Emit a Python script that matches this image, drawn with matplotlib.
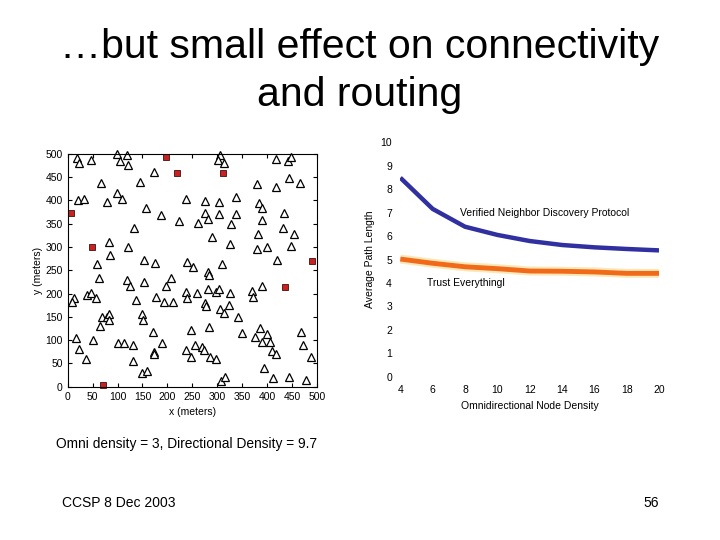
import numpy as np
import matplotlib.pyplot as plt

plt.rcParams['font.family'] = ['Liberation Sans', 'DejaVu Sans']

# ordinary nodes (triangles)
nodos_x = [18, 22, 47, 98, 105, 119, 122, 306, 302, 313, 419, 442, 449, 174, 67, 146,
           379, 419, 444, 466, 20, 33, 79, 99, 110, 238, 276, 303, 337, 158, 187, 223,
           261, 275, 282, 304, 338, 327, 383, 390, 390, 435, 133, 290, 82, 121, 85, 326,
           382, 433, 454, 379, 400, 449, 59, 154, 176, 240, 251, 310, 420, 282,
           283, 63, 120, 125, 208, 197, 153, 390, 13, 9, 39, 47, 57, 138, 178, 194, 211,
           238, 240, 260, 282, 276, 278, 298, 303, 326, 323, 306, 313, 342, 369, 372,
           69, 65, 79, 82, 82, 149, 151, 172, 190, 248, 284, 350, 387, 375, 401, 391,
           407, 410, 419, 469, 473, 489, 17, 22, 37, 51, 101, 113, 131, 131, 173, 174,
           237, 247, 256, 269, 274, 285, 298, 395, 412, 444, 478, 150, 160, 308, 315]
nodos_y = [492, 481, 486, 499, 484, 497, 477, 498, 486, 481, 489, 484, 494, 462, 437, 440,
           435, 428, 449, 438, 400, 404, 397, 417, 404, 403, 398, 397, 408, 383, 368, 356,
           352, 374, 361, 370, 370, 349, 394, 383, 358, 372, 340, 322, 311, 299, 282, 306,
           328, 341, 327, 296, 299, 302, 264, 271, 266, 267, 256, 264, 272, 246,
           239, 234, 229, 216, 234, 216, 224, 216, 190, 181, 196, 201, 191, 187, 193, 181, 181,
           203, 191, 201, 210, 180, 174, 204, 209, 201, 176, 167, 159, 149, 206, 193,
           150, 130, 150, 155, 143, 155, 143, 117, 94, 121, 129, 116, 125, 107, 113, 96,
           96, 76, 71, 118, 89, 64, 105, 81, 60, 100, 94, 93, 90, 56, 74, 71,
           79, 64, 90, 86, 79, 63, 59, 41, 19, 20, 14, 29, 33, 13, 21]

# malicious nodes (red squares)
malos_x = [198, 220, 312, 6, 48, 491, 71, 437]
malos_y = [494, 460, 460, 372, 299, 269, 4, 213]

# average path length vs density
densidad = [4, 6, 8, 10, 12, 14, 16, 18, 20]
verificado = [8.49, 7.16, 6.40, 6.05, 5.79, 5.62, 5.52, 5.45, 5.39]
confiar = [5.02, 4.84, 4.69, 4.61, 4.51, 4.50, 4.47, 4.41, 4.41]

fig = plt.figure(figsize=(7.2, 5.4), dpi=100)

fig.text(0.5, 0.913, '\u2026but small effect on connectivity', ha='center', va='center', fontsize=29.5)
fig.text(0.5, 0.824, 'and routing', ha='center', va='center', fontsize=29.5)

# scatter of nodes
ax1 = fig.add_axes([0.094, 0.284, 0.346, 0.431])
ax1.plot(nodos_x, nodos_y, '^', markersize=6, markerfacecolor='white',
         markeredgecolor='black', markeredgewidth=0.9, clip_on=False)
ax1.plot(malos_x, malos_y, 's', markersize=5, markerfacecolor='#cc2020',
         markeredgecolor='#401010', markeredgewidth=0.6, clip_on=False)
ax1.set_xlim(0, 500)
ax1.set_ylim(0, 500)
ax1.set_xticks(np.arange(0, 501, 50))
ax1.set_yticks(np.arange(0, 501, 50))
ax1.tick_params(direction='in', top=True, right=True, labelsize=7.5, length=3)
ax1.set_xlabel('x (meters)', fontsize=7.5, labelpad=4)
ax1.set_ylabel('y (meters)', fontsize=7.5, labelpad=2)

# path length chart
ax2 = fig.add_axes([0.556, 0.3024, 0.3593, 0.434])
ax2.plot(densidad, verificado, color='#3030a0', lw=3.2, solid_capstyle='butt')
ax2.plot(densidad, confiar, color='#f8d070', lw=6.5, alpha=0.5, solid_capstyle='butt')
ax2.plot(densidad, confiar, color='#f06a1a', lw=3.5, solid_capstyle='butt')
ax2.set_xlim(4, 20)
ax2.set_ylim(0, 10)
ax2.set_xticks(np.arange(4, 21, 2))
ax2.set_yticks(np.arange(0, 11, 1))
for s in ax2.spines.values():
    s.set_visible(False)
ax2.tick_params(length=0, labelsize=7.5, pad=6)
ax2.set_xlabel('Omnidirectional Node Density', fontsize=7.5, labelpad=4)
ax2.set_ylabel('Average Path Length', fontsize=7.5, labelpad=4)
ax2.text(12.95, 7.0, 'Verified Neighbor Discovery Protocol', fontsize=7.5, ha='center', va='center')
ax2.text(8.06, 4.0, 'Trust Everythingl', fontsize=7.5, ha='center', va='center')

fig.text(0.078, 0.178, 'Omni density = 3, Directional Density = 9.7', fontsize=9.9, va='center')
fig.text(0.086, 0.068, 'CCSP 8 Dec 2003', fontsize=10, va='center')
fig.text(0.905, 0.068, '56', fontsize=10, va='center', ha='center')

fig.savefig('out.png', dpi=100)
